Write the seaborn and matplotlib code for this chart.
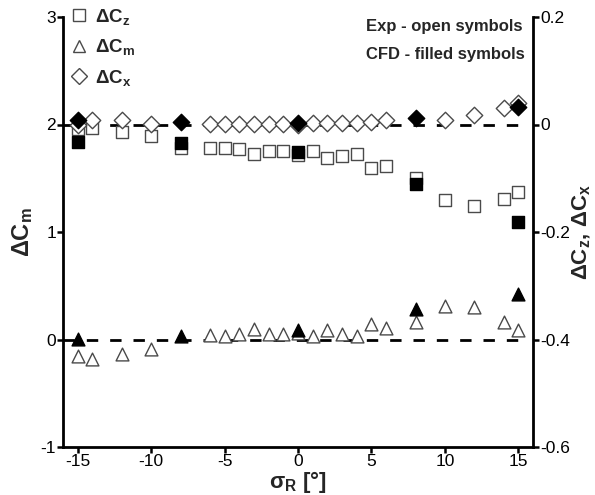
import matplotlib
matplotlib.use("Agg")
import matplotlib.pyplot as plt
from matplotlib.lines import Line2D
import seaborn as sns

# Experimental data (open symbols)
exp_cz_x = [-15, -14, -12, -10, -8, -6, -5, -4, -3, -2, -1, 0, 1, 2, 3, 4, 5, 6, 8, 10, 12, 14, 15]
exp_cz = [-0.009, -0.007, -0.014, -0.022, -0.043, -0.043, -0.043, -0.046, -0.055, -0.049, -0.049,
          -0.057, -0.049, -0.062, -0.058, -0.055, -0.080, -0.078, -0.099, -0.140, -0.151, -0.139, -0.126]

exp_cm_x = [-15, -14, -12, -10, -6, -5, -4, -3, -2, -1, 0, 1, 2, 3, 4, 5, 6, 8, 10, 12, 14, 15]
exp_cm = [-0.149, -0.180, -0.136, -0.087, 0.043, 0.037, 0.053, 0.099, 0.053, 0.050, 0.060, 0.037,
          0.090, 0.053, 0.030, 0.140, 0.105, 0.167, 0.313, 0.300, 0.167, 0.084]

exp_cx_x = [-15, -14, -12, -10, -6, -5, -4, -3, -2, -1, 0, 1, 2, 3, 4, 5, 6, 10, 12, 14, 15]
exp_cx = [0.000, 0.009, 0.008, 0.001, 0.001, 0.001, 0.001, 0.001, 0.001, 0.001, 0.000, 0.002,
          0.002, 0.002, 0.002, 0.004, 0.009, 0.009, 0.017, 0.030, 0.040]

# CFD data (filled symbols)
cfd_x = [-15, -8, 0, 8, 15]
cfd_cz = [-0.032, -0.035, -0.052, -0.110, -0.182]
cfd_cm = [0.005, 0.028, 0.090, 0.285, 0.425]
cfd_cx = [0.009, 0.004, 0.002, 0.012, 0.032]

# Zero reference lines
ref_x = [-16, 15]
ref_y = [0, 0]

x_ticks = [-15, -10, -5, 0, 5, 10, 15]
left_ticks = [-1, 0, 1, 2, 3]
right_ticks = [-0.6, -0.4, -0.2, 0, 0.2]
right_ticklabels = ["-0.6", "-0.4", "-0.2", "0", "0.2"]

sns.set_style("ticks")
plt.rcParams["font.family"] = ["Liberation Sans", "DejaVu Sans"]
plt.rcParams["mathtext.fontset"] = "custom"
plt.rcParams["mathtext.rm"] = "Liberation Sans"
plt.rcParams["mathtext.bf"] = "Liberation Sans:bold"
plt.rcParams["mathtext.it"] = "Liberation Sans:italic"

fig = plt.figure(figsize=(5.95, 4.95), dpi=100)
ax = fig.add_axes([63 / 595, 48 / 495, 470 / 595, 430 / 495])
ax2 = ax.twinx()

open_kw = dict(color="white", edgecolor="#4a4a4a", linewidth=1.0, legend=False)
fill_kw = dict(color="black", edgecolor="black", linewidth=1.0, legend=False)
ms_sq, ms_tri, ms_dia = 72, 85, 70

dash = (0, (4.1, 4.3))
sns.lineplot(x=ref_x, y=ref_y, ax=ax, color="black", lw=2, linestyle=dash, zorder=1)
sns.lineplot(x=ref_x, y=ref_y, ax=ax2, color="black", lw=2, linestyle=dash, zorder=1)

# open symbols first, filled on top
sns.scatterplot(x=exp_cm_x, y=exp_cm, ax=ax, marker="^", s=ms_tri, zorder=3, **open_kw)
sns.scatterplot(x=cfd_x, y=cfd_cm, ax=ax, marker="^", s=ms_tri, zorder=4, **fill_kw)
sns.scatterplot(x=exp_cz_x, y=exp_cz, ax=ax2, marker="s", s=ms_sq, zorder=3, **open_kw)
sns.scatterplot(x=exp_cx_x, y=exp_cx, ax=ax2, marker="D", s=ms_dia, zorder=3, **open_kw)
sns.scatterplot(x=cfd_x, y=cfd_cz, ax=ax2, marker="s", s=ms_sq, zorder=4, **fill_kw)
sns.scatterplot(x=cfd_x, y=cfd_cx, ax=ax2, marker="D", s=ms_dia, zorder=4, **fill_kw)

ax.set_xlim(-16, 16)
ax.set_ylim(-1, 3)
ax2.set_ylim(-0.6, 0.2)
ax.set_xticks(x_ticks)
ax.set_xticklabels([str(v) for v in x_ticks])
ax.set_yticks(left_ticks)
ax.set_yticklabels([str(v) for v in left_ticks])
ax2.set_yticks(right_ticks)
ax2.set_yticklabels(right_ticklabels)

for a in (ax, ax2):
    a.spines["top"].set_visible(False)
    for s in ("left", "right", "bottom"):
        a.spines[s].set_linewidth(2)
        a.spines[s].set_color("black")
    a.tick_params(direction="out", length=4, width=1.8, labelsize=12.5, colors="black", pad=1)
ax.spines["right"].set_visible(False)
ax2.spines["left"].set_visible(False)
ax2.spines["bottom"].set_visible(False)

ax.set_xlabel("σ$_\\mathbf{R}$ [°]", fontsize=16, fontweight="bold", labelpad=0)
ax.set_ylabel("ΔC$_\\mathbf{m}$", fontsize=17, fontweight="bold", labelpad=4)
ax2.set_ylabel("ΔC$_\\mathbf{z}$, ΔC$_\\mathbf{x}$", fontsize=16, fontweight="bold", labelpad=1)

handles = [
    Line2D([], [], marker="s", ls="none", ms=8.5, mfc="white", mec="#4a4a4a", mew=1.0),
    Line2D([], [], marker="^", ls="none", ms=9.2, mfc="white", mec="#4a4a4a", mew=1.0),
    Line2D([], [], marker="D", ls="none", ms=8.3, mfc="white", mec="#4a4a4a", mew=1.0),
]
labels = ["ΔC$_\\mathbf{z}$", "ΔC$_\\mathbf{m}$", "ΔC$_\\mathbf{x}$"]
leg = ax2.legend(handles, labels, loc="upper left", bbox_to_anchor=(70 / 595, 1 - 7 / 495),
                 bbox_transform=fig.transFigure, frameon=False, handlelength=1.0,
                 handletextpad=0.35, labelspacing=0.55, borderaxespad=0, borderpad=0,
                 prop={"weight": "bold", "size": 13.5})

fig.text(523 / 595, 1 - 26 / 495, "Exp - open symbols", ha="right", va="center",
         fontsize=12, fontweight="bold")
fig.text(525 / 595, 1 - 54 / 495, "CFD - filled symbols", ha="right", va="center",
         fontsize=12, fontweight="bold")

fig.savefig("out.png", dpi=100)
